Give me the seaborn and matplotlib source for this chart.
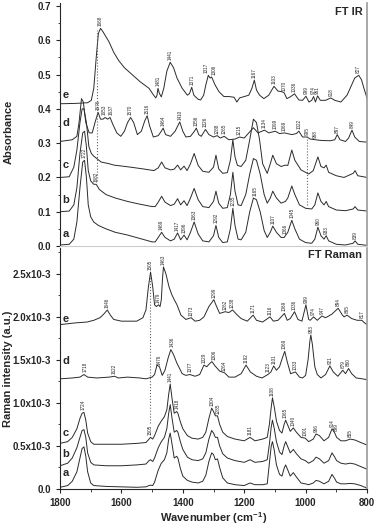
import numpy as np
import pandas as pd
import seaborn as sns
import matplotlib.pyplot as plt
from matplotlib.ticker import MultipleLocator

sns.set_style("ticks")
plt.rcParams['font.family'] = ['Liberation Sans', 'DejaVu Sans']
plt.rcParams['font.weight'] = 'bold'
plt.rcParams['mathtext.fontset'] = 'custom'
plt.rcParams['mathtext.bf'] = 'Liberation Sans:bold'
plt.rcParams['mathtext.default'] = 'bf'

# FT IR spectra (wavenumber, absorbance), stacked as drawn
ir_a = [(1800, 0.003), (1770, 0.005), (1755, 0.02), (1745, 0.07), (1735, 0.17), (1726, 0.245), (1720, 0.25),
        (1714, 0.2), (1708, 0.12), (1700, 0.085), (1690, 0.07), (1675, 0.06), (1650, 0.05), (1620, 0.04),
        (1580, 0.032), (1540, 0.022), (1500, 0.012), (1490, 0.012), (1480, 0.025), (1469, 0.04), (1458, 0.025),
        (1440, 0.015), (1428, 0.02), (1417, 0.038), (1407, 0.018), (1396, 0.032), (1386, 0.018), (1375, 0.04),
        (1363, 0.07), (1350, 0.035), (1335, 0.015), (1315, 0.012), (1300, 0.03), (1292, 0.06), (1283, 0.025),
        (1270, 0.01), (1255, 0.012), (1245, 0.05), (1237, 0.11), (1230, 0.06), (1220, 0.02), (1210, 0.018),
        (1195, 0.04), (1182, 0.1), (1170, 0.14), (1160, 0.135), (1148, 0.1), (1135, 0.045), (1125, 0.025),
        (1115, 0.04), (1107, 0.058), (1095, 0.04), (1080, 0.025), (1070, 0.025), (1066, 0.03), (1058, 0.04),
        (1045, 0.075), (1035, 0.05), (1020, 0.02), (1000, 0.01), (980, 0.008), (970, 0.02), (960, 0.055),
        (950, 0.03), (940, 0.02), (933, 0.03), (925, 0.015), (900, 0.005), (870, 0.003), (845, 0.008),
        (839, 0.015), (830, 0.005), (800, 0.002)]
ir_b = [(1800, 0.1), (1770, 0.102), (1755, 0.12), (1745, 0.17), (1735, 0.27), (1726, 0.33), (1720, 0.335),
        (1714, 0.29), (1708, 0.22), (1700, 0.19), (1690, 0.18), (1682, 0.18), (1672, 0.165), (1650, 0.15),
        (1620, 0.14), (1580, 0.13), (1540, 0.122), (1500, 0.115), (1490, 0.115), (1480, 0.128), (1469, 0.145),
        (1458, 0.128), (1440, 0.118), (1428, 0.122), (1417, 0.138), (1407, 0.12), (1396, 0.132), (1386, 0.118),
        (1375, 0.14), (1363, 0.168), (1350, 0.135), (1335, 0.115), (1315, 0.112), (1300, 0.13), (1292, 0.16),
        (1283, 0.125), (1270, 0.11), (1255, 0.112), (1245, 0.15), (1237, 0.215), (1230, 0.16), (1220, 0.12),
        (1210, 0.118), (1195, 0.15), (1182, 0.21), (1170, 0.255), (1160, 0.25), (1148, 0.21), (1135, 0.15),
        (1125, 0.125), (1115, 0.14), (1107, 0.16), (1095, 0.14), (1080, 0.125), (1066, 0.13), (1058, 0.14),
        (1045, 0.175), (1035, 0.15), (1020, 0.12), (1000, 0.11), (980, 0.108), (970, 0.12), (960, 0.155),
        (950, 0.13), (940, 0.12), (933, 0.13), (925, 0.115), (900, 0.105), (870, 0.103), (845, 0.108),
        (839, 0.115), (830, 0.105), (800, 0.102)]
ir_c = [(1800, 0.2), (1770, 0.202), (1755, 0.23), (1745, 0.28), (1735, 0.36), (1728, 0.4), (1722, 0.4),
        (1714, 0.36), (1706, 0.29), (1698, 0.27), (1690, 0.262), (1680, 0.255), (1666, 0.245), (1640, 0.24),
        (1624, 0.236), (1570, 0.23), (1530, 0.225), (1494, 0.22), (1480, 0.228), (1469, 0.245), (1458, 0.228),
        (1440, 0.222), (1428, 0.224), (1417, 0.236), (1407, 0.222), (1396, 0.233), (1386, 0.22), (1375, 0.24),
        (1363, 0.27), (1350, 0.235), (1335, 0.218), (1315, 0.215), (1300, 0.23), (1292, 0.265), (1283, 0.225),
        (1270, 0.212), (1255, 0.214), (1245, 0.25), (1237, 0.31), (1230, 0.26), (1222, 0.235), (1210, 0.232),
        (1195, 0.25), (1182, 0.31), (1170, 0.37), (1160, 0.36), (1150, 0.31), (1140, 0.24), (1125, 0.212),
        (1115, 0.24), (1107, 0.265), (1095, 0.24), (1080, 0.232), (1066, 0.236), (1058, 0.235), (1045, 0.28),
        (1035, 0.25), (1015, 0.222), (990, 0.21), (975, 0.22), (960, 0.26), (950, 0.232), (940, 0.228),
        (933, 0.236), (925, 0.215), (900, 0.205), (875, 0.2), (845, 0.212), (839, 0.22), (830, 0.205),
        (800, 0.2)]
ir_d = [(1800, 0.305), (1760, 0.31), (1745, 0.32), (1738, 0.36), (1730, 0.43), (1724, 0.42), (1716, 0.36),
        (1705, 0.33), (1695, 0.33), (1686, 0.36), (1676, 0.39), (1668, 0.37), (1660, 0.37), (1653, 0.375),
        (1645, 0.37), (1637, 0.375), (1628, 0.355), (1615, 0.33), (1602, 0.32), (1590, 0.335), (1580, 0.36),
        (1570, 0.375), (1560, 0.36), (1548, 0.325), (1535, 0.335), (1524, 0.365), (1516, 0.38), (1508, 0.35),
        (1496, 0.318), (1480, 0.322), (1470, 0.335), (1464, 0.344), (1456, 0.325), (1440, 0.32), (1425, 0.335),
        (1410, 0.362), (1400, 0.335), (1390, 0.318), (1375, 0.32), (1362, 0.335), (1356, 0.344), (1348, 0.325),
        (1340, 0.32), (1326, 0.34), (1315, 0.325), (1300, 0.318), (1288, 0.322), (1278, 0.315), (1265, 0.32),
        (1250, 0.31), (1230, 0.312), (1215, 0.318), (1200, 0.315), (1185, 0.33), (1170, 0.345), (1155, 0.33),
        (1134, 0.338), (1120, 0.33), (1099, 0.335), (1085, 0.328), (1069, 0.33), (1045, 0.325), (1030, 0.328),
        (1022, 0.335), (1010, 0.318), (995, 0.318), (985, 0.312), (968, 0.31), (950, 0.308), (920, 0.307),
        (905, 0.31), (897, 0.325), (888, 0.31), (870, 0.305), (860, 0.315), (849, 0.338), (840, 0.318),
        (825, 0.305), (800, 0.303)]
ir_e = [(1800, 0.415), (1750, 0.416), (1710, 0.418), (1698, 0.425), (1690, 0.46), (1682, 0.55), (1675, 0.62),
        (1668, 0.635), (1660, 0.625), (1650, 0.61), (1640, 0.595), (1625, 0.565), (1608, 0.54), (1590, 0.52),
        (1565, 0.5), (1540, 0.48), (1510, 0.46), (1495, 0.44), (1488, 0.432), (1484, 0.44), (1481, 0.46),
        (1476, 0.445), (1470, 0.435), (1462, 0.46), (1452, 0.51), (1441, 0.536), (1430, 0.52), (1419, 0.49),
        (1402, 0.46), (1385, 0.44), (1378, 0.445), (1371, 0.463), (1364, 0.44), (1350, 0.428), (1342, 0.426),
        (1332, 0.44), (1325, 0.47), (1317, 0.498), (1311, 0.49), (1306, 0.493), (1295, 0.47), (1282, 0.45),
        (1266, 0.436), (1250, 0.436), (1233, 0.434), (1224, 0.42), (1215, 0.432), (1200, 0.436), (1185, 0.44),
        (1175, 0.46), (1167, 0.484), (1160, 0.455), (1150, 0.44), (1136, 0.43), (1120, 0.44), (1103, 0.466),
        (1090, 0.452), (1077, 0.45), (1070, 0.447), (1061, 0.43), (1050, 0.435), (1036, 0.444), (1022, 0.426),
        (1010, 0.425), (999, 0.437), (989, 0.42), (980, 0.425), (974, 0.436), (968, 0.42), (961, 0.438),
        (952, 0.425), (935, 0.425), (918, 0.432), (905, 0.425), (885, 0.42), (865, 0.44), (850, 0.47),
        (840, 0.49), (827, 0.498), (818, 0.485), (810, 0.46), (803, 0.44), (800, 0.43)]

# FT Raman spectra (wavenumber, intensity in units of 1e-3)
ra_a = [(1800, 0.02), (1775, 0.04), (1760, 0.09), (1745, 0.2), (1735, 0.36), (1728, 0.47), (1722, 0.49),
        (1716, 0.38), (1710, 0.2), (1700, 0.07), (1690, 0.04), (1650, 0.03), (1600, 0.025), (1550, 0.02),
        (1520, 0.025), (1510, 0.04), (1505, 0.045), (1498, 0.04), (1492, 0.08), (1480, 0.22), (1470, 0.3),
        (1460, 0.34), (1452, 0.42), (1446, 0.58), (1441, 0.65), (1435, 0.52), (1428, 0.36), (1420, 0.38),
        (1416, 0.36), (1408, 0.24), (1400, 0.15), (1385, 0.1), (1370, 0.08), (1350, 0.07), (1335, 0.09),
        (1325, 0.16), (1315, 0.32), (1306, 0.42), (1300, 0.4), (1294, 0.34), (1287, 0.35), (1280, 0.25),
        (1270, 0.13), (1255, 0.07), (1230, 0.05), (1200, 0.04), (1181, 0.07), (1165, 0.05), (1140, 0.05),
        (1125, 0.06), (1118, 0.3), (1112, 0.5), (1108, 0.55), (1102, 0.45), (1095, 0.28), (1085, 0.17),
        (1077, 0.15), (1070, 0.24), (1065, 0.28), (1058, 0.22), (1050, 0.15), (1040, 0.19), (1030, 0.14),
        (1015, 0.07), (1001, 0.06), (990, 0.05), (975, 0.07), (966, 0.1), (955, 0.09), (940, 0.06),
        (925, 0.09), (914, 0.17), (905, 0.12), (899, 0.08), (885, 0.06), (870, 0.06), (855, 0.065),
        (840, 0.06), (820, 0.04), (800, 0.01)]
ra_b = [(1800, 0.27), (1775, 0.3), (1760, 0.36), (1745, 0.48), (1735, 0.6), (1728, 0.68), (1722, 0.69),
        (1716, 0.6), (1710, 0.42), (1700, 0.31), (1690, 0.28), (1650, 0.27), (1600, 0.27), (1550, 0.28),
        (1520, 0.29), (1510, 0.33), (1505, 0.34), (1498, 0.32), (1492, 0.36), (1480, 0.48), (1470, 0.55),
        (1460, 0.6), (1452, 0.7), (1446, 0.88), (1441, 0.98), (1435, 0.82), (1428, 0.66), (1420, 0.68),
        (1416, 0.66), (1408, 0.55), (1400, 0.46), (1385, 0.37), (1370, 0.34), (1350, 0.33), (1335, 0.35),
        (1325, 0.42), (1315, 0.58), (1306, 0.68), (1300, 0.65), (1294, 0.6), (1287, 0.6), (1280, 0.5),
        (1270, 0.41), (1255, 0.36), (1230, 0.33), (1200, 0.31), (1181, 0.34), (1165, 0.31), (1140, 0.32),
        (1125, 0.34), (1118, 0.52), (1112, 0.72), (1108, 0.8), (1102, 0.7), (1095, 0.55), (1085, 0.43),
        (1077, 0.4), (1070, 0.5), (1065, 0.55), (1058, 0.49), (1050, 0.42), (1040, 0.46), (1030, 0.41),
        (1015, 0.35), (1001, 0.33), (990, 0.3), (975, 0.33), (966, 0.37), (955, 0.35), (940, 0.3),
        (925, 0.33), (914, 0.42), (905, 0.37), (899, 0.33), (885, 0.3), (870, 0.29), (855, 0.3),
        (840, 0.29), (820, 0.26), (800, 0.23)]
ra_c = [(1800, 0.53), (1775, 0.55), (1760, 0.6), (1745, 0.7), (1735, 0.82), (1728, 0.88), (1722, 0.89),
        (1716, 0.8), (1710, 0.65), (1700, 0.55), (1690, 0.52), (1650, 0.52), (1600, 0.52), (1550, 0.53),
        (1520, 0.54), (1510, 0.58), (1505, 0.6), (1498, 0.58), (1492, 0.62), (1480, 0.73), (1470, 0.79),
        (1460, 0.84), (1452, 0.92), (1446, 1.1), (1441, 1.22), (1435, 1.05), (1428, 0.88), (1420, 0.9),
        (1416, 0.88), (1408, 0.78), (1400, 0.7), (1385, 0.62), (1370, 0.59), (1350, 0.58), (1335, 0.6),
        (1325, 0.66), (1315, 0.82), (1306, 0.94), (1300, 0.9), (1294, 0.85), (1287, 0.85), (1280, 0.75),
        (1270, 0.66), (1255, 0.61), (1230, 0.58), (1200, 0.56), (1181, 0.6), (1165, 0.56), (1140, 0.58),
        (1125, 0.6), (1118, 0.75), (1112, 0.95), (1108, 1.06), (1102, 0.95), (1095, 0.79), (1085, 0.68),
        (1077, 0.65), (1070, 0.75), (1065, 0.8), (1058, 0.74), (1050, 0.67), (1040, 0.71), (1030, 0.66),
        (1015, 0.6), (1001, 0.59), (990, 0.55), (975, 0.58), (966, 0.64), (955, 0.62), (940, 0.56),
        (925, 0.6), (914, 0.7), (905, 0.65), (899, 0.6), (885, 0.56), (870, 0.56), (855, 0.58),
        (840, 0.57), (820, 0.54), (800, 0.51)]
ra_d = [(1800, 1.28), (1760, 1.29), (1735, 1.3), (1722, 1.33), (1710, 1.3), (1680, 1.29), (1640, 1.3),
        (1622, 1.31), (1610, 1.29), (1580, 1.3), (1540, 1.29), (1520, 1.28), (1500, 1.3), (1492, 1.33),
        (1484, 1.44), (1476, 1.42), (1467, 1.32), (1458, 1.38), (1448, 1.52), (1439, 1.62), (1430, 1.56),
        (1419, 1.46), (1402, 1.34), (1390, 1.32), (1377, 1.33), (1360, 1.31), (1345, 1.33), (1331, 1.44),
        (1322, 1.42), (1312, 1.46), (1305, 1.48), (1295, 1.43), (1280, 1.37), (1264, 1.35), (1250, 1.3),
        (1230, 1.3), (1210, 1.34), (1194, 1.44), (1180, 1.36), (1160, 1.31), (1142, 1.29), (1123, 1.33),
        (1113, 1.36), (1104, 1.43), (1095, 1.38), (1085, 1.42), (1076, 1.52), (1068, 1.6), (1060, 1.48),
        (1049, 1.34), (1033, 1.36), (1020, 1.3), (1010, 1.29), (1000, 1.32), (992, 1.5), (986, 1.72),
        (983, 1.79), (978, 1.68), (970, 1.42), (962, 1.33), (950, 1.29), (935, 1.33), (921, 1.43),
        (910, 1.36), (895, 1.31), (879, 1.38), (870, 1.34), (860, 1.4), (850, 1.34), (835, 1.29),
        (815, 1.28), (800, 1.27)]
ra_e = [(1800, 1.91), (1750, 1.93), (1712, 1.94), (1690, 1.96), (1670, 1.99), (1658, 2.03), (1646, 2.08),
        (1636, 2.02), (1625, 1.97), (1600, 1.95), (1550, 1.95), (1530, 1.99), (1520, 2.08), (1512, 2.35),
        (1505, 2.52), (1498, 2.35), (1492, 2.14), (1486, 2.12), (1479, 2.14), (1474, 2.12), (1470, 2.2),
        (1466, 2.45), (1463, 2.58), (1455, 2.5), (1445, 2.35), (1436, 2.26), (1428, 2.2), (1419, 2.14),
        (1406, 2.02), (1390, 1.97), (1373, 1.99), (1360, 1.95), (1345, 1.96), (1331, 2.0), (1315, 2.12),
        (1299, 2.2), (1290, 2.12), (1280, 2.04), (1262, 2.06), (1250, 2.05), (1238, 2.08), (1225, 2.03),
        (1210, 1.98), (1190, 1.95), (1171, 2.02), (1160, 1.96), (1140, 1.94), (1116, 2.0), (1105, 1.95),
        (1090, 1.96), (1069, 2.04), (1060, 1.96), (1050, 1.98), (1036, 2.06), (1025, 1.97), (1012, 1.95),
        (999, 2.14), (990, 1.97), (985, 1.96), (974, 2.0), (962, 1.96), (947, 2.01), (935, 1.99),
        (915, 2.03), (894, 2.1), (880, 2.02), (875, 2.0), (865, 2.02), (850, 1.98), (832, 1.96),
        (817, 1.96), (808, 1.93), (800, 1.91)]

# peak labels per spectrum
ir_labels = {
    'a': ['1722', '1469', '1417', '1396', '1363', '1292', '1235', '1165', '1107', '1066', '1045', '960', '933', '839'],
    'b': ['1682'],
    'd': ['1676', '1653', '1637', '1570', '1516', '1464', '1410', '1356', '1326', '1288', '1265', '1215',
          '1134', '1099', '1069', '1022', '995', '968', '897', '849'],
    'e': ['1668', '1481', '1441', '1371', '1317', '1306', '1167', '1103', '1070', '1036', '999', '974',
          '961', '918', '827'],
}
ra_labels = {
    'c': ['1724', '1505', '1441', '1418', '1304', '1285', '1181', '1108', '1065', '1040', '1001', '966',
          '914', '899', '855'],
    'd': ['1718', '1622', '1476', '1436', '1377', '1329', '1306', '1264', '1192', '1123', '1101', '1069',
          '1033', '983', '921', '879', '860'],
    'e': ['1646', '1505', '1479', '1463', '1373', '1299', '1262', '1238', '1171', '1116', '1069', '1036',
          '999', '974', '947', '894', '865', '817'],
}
ir_letter_y = {'a': 0.035, 'b': 0.135, 'c': 0.235, 'd': 0.36, 'e': 0.44}
ra_letter_y = {'a': 0.19, 'b': 0.41, 'c': 0.65, 'd': 1.49, 'e': 1.98}

ir = {'a': ir_a, 'b': ir_b, 'c': ir_c, 'd': ir_d, 'e': ir_e}
ra = {'a': ra_a, 'b': ra_b, 'c': ra_c, 'd': ra_d, 'e': ra_e}

# small sideways nudges (points) for labels that sit too close together
nudge = {'1317': -1.6, '1306': 1.6, '1653': -0.6, '1637': 0.6}

line_col = '#2b2b2b'
fig = plt.figure(figsize=(3.75, 5.27), dpi=100)
ax1 = fig.add_axes([0.16, 0.5332, 0.8187, 0.4618])
ax2 = fig.add_axes([0.16, 0.0721, 0.8187, 0.4573])


def draw(ax, spectra, labels, letters):
    for key, pts in spectra.items():
        df = pd.DataFrame(pts, columns=['wn', 'val'])
        sns.lineplot(data=df, x='wn', y='val', ax=ax, color=line_col, linewidth=0.7,
                     estimator=None, sort=False)
        ax.text(1782, letters[key], key, fontsize=8, fontweight='bold', ha='center', va='center')
        for lab in labels.get(key, []):
            w = float(lab)
            near = df[(df.wn >= w - 6) & (df.wn <= w + 6)]
            top = near.val.max() if len(near) else np.interp(w, df.wn[::-1], df.val[::-1])
            ax.annotate(lab, (w, top), xytext=(nudge.get(lab, 0), 1.5), textcoords='offset points',
                        rotation=90, fontsize=3.3, fontweight='normal', ha='center', va='bottom')


draw(ax1, ir, ir_labels, ir_letter_y)
draw(ax2, ra, ra_labels, ra_letter_y)

# dotted guide lines
ax1.plot([1678, 1678], [0.19, 0.63], ls=':', color='#666666', lw=0.8)
ax1.plot([995, 995], [0.12, 0.32], ls=':', color='#666666', lw=0.8)
ax2.plot([1506, 1506], [0.77, 2.5], ls=':', color='#666666', lw=0.8)

for ax in (ax1, ax2):
    ax.set_xlim(1800, 800)
    ax.set_xlabel('')
    ax.set_ylabel('')
    ax.spines['top'].set_visible(False)
    ax.spines['right'].set_color('#999999')
    ax.spines['right'].set_linewidth(1.2)
    ax.xaxis.set_major_locator(MultipleLocator(200))
    ax.xaxis.set_minor_locator(MultipleLocator(100))
    ax.tick_params(which='major', length=3, width=0.8, labelsize=7)
    ax.tick_params(which='minor', length=1.8, width=0.6)

ax1.set_ylim(0, 0.71)
ax1.set_yticks(np.arange(0, 0.71, 0.1))
ax1.set_yticklabels([f'{v:.1f}' for v in np.arange(0, 0.71, 0.1)])
ax1.yaxis.set_minor_locator(MultipleLocator(0.05))
ax1.tick_params(axis='x', which='both', bottom=False, labelbottom=False)
ax1.spines['bottom'].set_color('#cccccc')
ax1.set_ylabel('Absorbance', fontsize=8, fontweight='bold')
ax1.text(0.985, 0.96, 'FT IR', transform=ax1.transAxes, ha='right', va='center',
         fontsize=8, fontweight='bold')

ax2.set_ylim(0, 2.8)
ax2.set_yticks([0, 0.5, 1.0, 1.5, 2.0, 2.5])
ax2.set_yticklabels(['0.0', '0.5x10-3', '1.0x10-3', '1.5x10-3', '2.0x10-3', '2.5x10-3'])
ax2.yaxis.set_minor_locator(MultipleLocator(0.25))
ax2.set_ylabel('Raman intensity (a.u.)', fontsize=8, fontweight='bold')
ax2.set_xlabel('Wavenumber (cm$^{-1}$)', fontsize=8, fontweight='bold', labelpad=1.5)
ax2.text(0.985, 0.97, 'FT Raman', transform=ax2.transAxes, ha='right', va='center',
         fontsize=8, fontweight='bold')

for ax in (ax1, ax2):
    for t in ax.get_xticklabels() + ax.get_yticklabels():
        t.set_fontweight('bold')

ax1.yaxis.set_label_coords(-0.152, 0.47)
ax2.yaxis.set_label_coords(-0.152, 0.5)

fig.savefig('out.png', dpi=100)
